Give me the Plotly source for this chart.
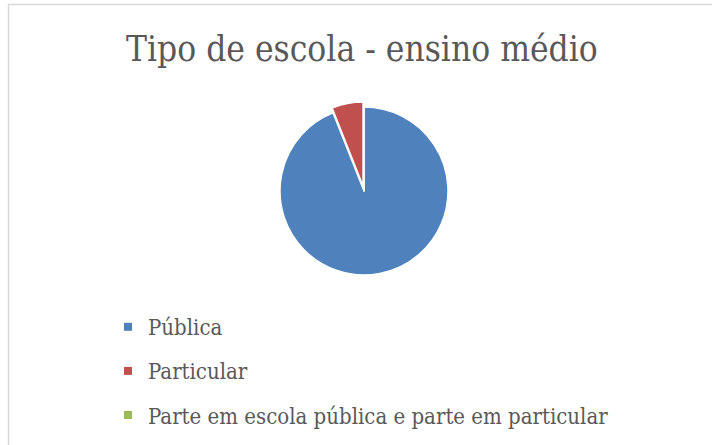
"""
Gráfico de pizza: tipo de escola no ensino médio.
"""

import plotly.graph_objects as go

W, H = 712, 445

# Dados
rotulos = ["Pública", "Particular", "Parte em escola pública e parte em particular"]
valores = [94, 6, 0]
cores = ["#4f81bd", "#c0504d", "#9bbb59"]
destaque = [0, 0.06, 0]

fonte = "DejaVu Serif Condensed, DejaVu Serif"
cinza = "#595959"

# Posição da pizza (px)
cx, cy, raio = 364, 191, 84
r_dom = raio * (1 + max(destaque))

fig = go.Figure()

fig.add_trace(go.Pie(
    labels=rotulos,
    values=valores,
    marker=dict(colors=cores, line=dict(color="white", width=1.5)),
    pull=destaque,
    sort=False,
    direction="clockwise",
    rotation=0,
    textinfo="none",
    hoverinfo="label+percent",
    showlegend=False,
    domain=dict(
        x=[(cx - r_dom) / W, (cx + r_dom) / W],
        y=[1 - (cy + r_dom) / H, 1 - (cy - r_dom) / H],
    ),
))

# Legenda (um grupo por item para controlar o espaçamento)
for rotulo, cor in zip(rotulos, cores):
    fig.add_trace(go.Scatter(
        x=[None], y=[None],
        mode="markers",
        marker=dict(symbol="square", size=8, color=cor),
        name=rotulo,
        legendgroup=rotulo,
        showlegend=True,
        hoverinfo="skip",
    ))

# Moldura do gráfico
fig.add_shape(
    type="rect", xref="paper", yref="paper",
    x0=8.5 / W, x1=1.02, y0=-0.02, y1=1 - 4.5 / H,
    line=dict(color="#d9d9d9", width=1.5),
)

# Título
fig.add_annotation(
    text="Tipo de escola - ensino médio",
    xref="paper", yref="paper",
    x=362 / W, y=1 - 49 / H,
    xanchor="center", yanchor="middle",
    showarrow=False,
    font=dict(family=fonte, size=35, color=cinza),
)

fig.update_layout(
    width=W, height=H,
    margin=dict(l=0, r=0, t=0, b=0),
    paper_bgcolor="white",
    plot_bgcolor="white",
    xaxis=dict(visible=False),
    yaxis=dict(visible=False),
    legend=dict(
        x=108 / W, y=1 - 306 / H,
        xanchor="left", yanchor="top",
        font=dict(family=fonte, size=22, color=cinza),
        tracegroupgap=12.5,
        traceorder="grouped",
        bgcolor="rgba(0,0,0,0)",
    ),
)

fig.write_html(
    "out.html",
    config={"displayModeBar": False},
    post_script="document.body.style.margin = '0px';",
)
